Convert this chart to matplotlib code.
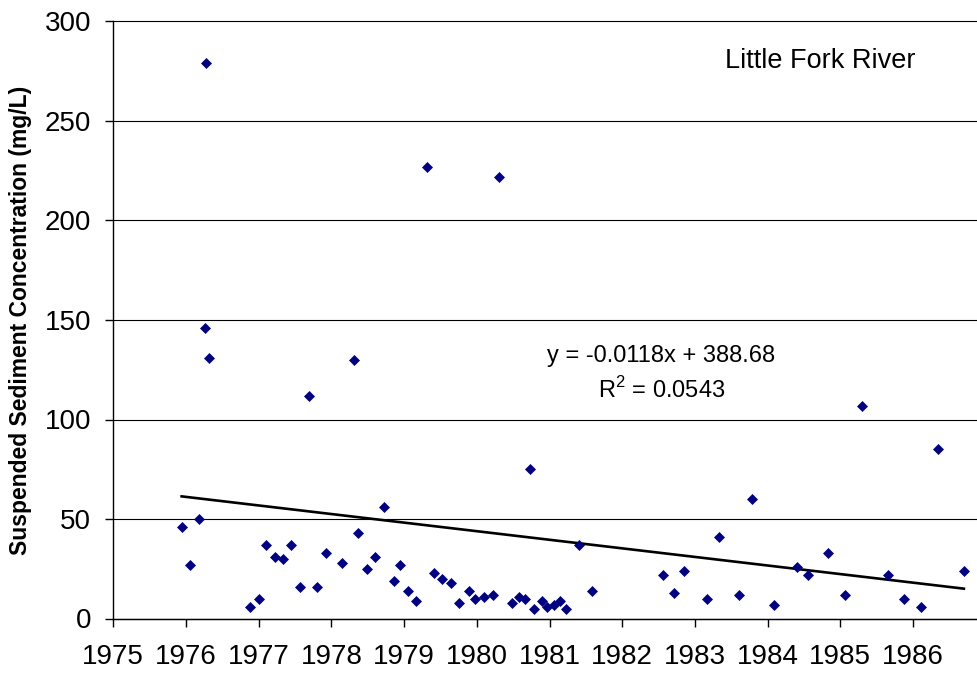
import matplotlib.pyplot as plt

plt.rcParams['font.family'] = ['Liberation Sans', 'DejaVu Sans']
plt.rcParams['mathtext.fontset'] = 'custom'
plt.rcParams['mathtext.rm'] = 'Liberation Sans'

# sample dates (decimal years) and suspended sediment (mg/L)
years = [1975.94, 1976.05, 1976.18, 1976.26, 1976.28, 1976.31, 1976.88, 1977.01,
         1977.10, 1977.22, 1977.34, 1977.45, 1977.57, 1977.69, 1977.80, 1977.93,
         1978.15, 1978.31, 1978.37, 1978.49, 1978.60, 1978.72, 1978.86, 1978.95,
         1979.06, 1979.17, 1979.31, 1979.41, 1979.52, 1979.64, 1979.75, 1979.89,
         1979.97, 1980.10, 1980.22, 1980.30, 1980.48, 1980.58, 1980.66, 1980.73,
         1980.79, 1980.89, 1980.96, 1981.06, 1981.15, 1981.23, 1981.41, 1981.58,
         1982.56, 1982.71, 1982.85, 1983.17, 1983.33, 1983.61, 1983.79, 1984.09,
         1984.40, 1984.55, 1984.83, 1985.07, 1985.30, 1985.65, 1985.87, 1986.11,
         1986.35, 1986.70]
conc = [46, 27, 50, 146, 279, 131, 6, 10,
        37, 31, 30, 37, 16, 112, 16, 33,
        28, 130, 43, 25, 31, 56, 19, 27,
        14, 9, 227, 23, 20, 18, 8, 14,
        10, 11, 12, 222, 8, 11, 10, 75,
        5, 9, 6, 7, 9, 5, 37, 14,
        22, 13, 24, 10, 41, 12, 60, 7,
        26, 22, 33, 12, 107, 22, 10, 6,
        85, 24]

# linear trend, x is the spreadsheet day number
slope = -0.0118
intercept = 388.68
r2 = 0.0543

def day_number(yr):
    return (yr - 1900) * 365.25 + 1

trend_x = [min(years), max(years)]
trend_y = [slope * day_number(t) + intercept for t in trend_x]

fig = plt.figure(figsize=(9.77, 6.75), dpi=100)
ax = fig.add_axes([113.3 / 977, 1 - 618.5 / 675, (977 - 113.3) / 977, 597 / 675])

ax.plot(years, conc, linestyle='none', marker='D', markersize=5,
        color='#000080', markeredgewidth=0.5, zorder=3)
ax.plot(trend_x, trend_y, color='black', linewidth=1.9, zorder=2)

ax.set_xlim(1975, 1975 + (977 - 113.3) / 72.7)
ax.set_ylim(0, 300)
ax.set_xticks(range(1975, 1987))
ax.set_yticks(range(0, 301, 50))
ax.yaxis.grid(True, color='black', linewidth=0.8)
ax.set_axisbelow(True)
for g in ax.get_ygridlines():
    g.set_clip_on(False)

for s in ['top', 'right']:
    ax.spines[s].set_visible(False)
for s in ['left', 'bottom']:
    ax.spines[s].set_linewidth(1.0)

ax.tick_params(axis='x', direction='out', length=6, width=1, labelsize=20, pad=12)
ax.tick_params(axis='y', direction='out', length=6, width=1, labelsize=20, pad=10)

ax.set_ylabel('Suspended Sediment Concentration (mg/L)', fontsize=16.5, fontweight='bold')
ax.yaxis.set_label_coords(-0.094, 0.5)

ax.text(0.819, 0.934, 'Little Fork River', transform=ax.transAxes,
        ha='center', va='center', fontsize=19.5)
ax.text(0.634, 0.44, 'y = %.4fx + %.2f' % (slope, intercept), transform=ax.transAxes,
        ha='center', va='center', fontsize=17)
ax.text(0.635, 0.383, 'R$^{2}$ = %.4f' % r2, transform=ax.transAxes,
        ha='center', va='center', fontsize=17)

plt.savefig('out.png', dpi=100)
